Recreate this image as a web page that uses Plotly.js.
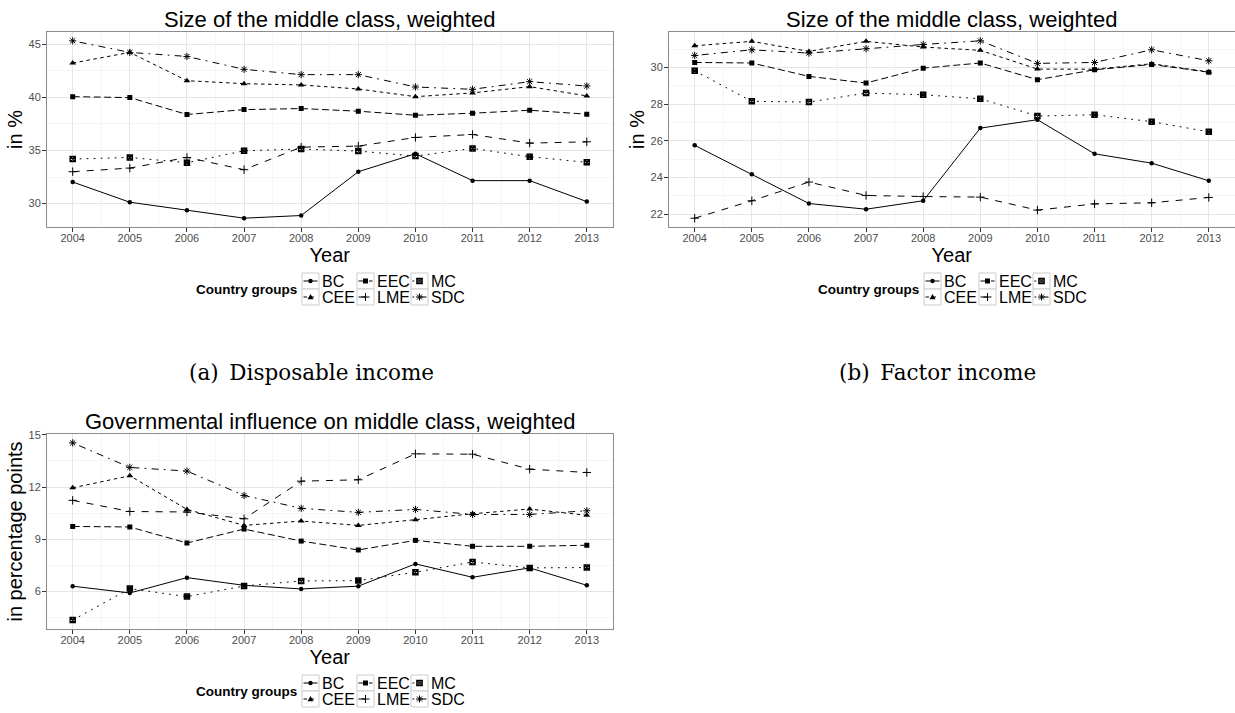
<!DOCTYPE html>
<html>
<head>
<meta charset="utf-8">
<script src="https://cdn.plot.ly/plotly-3.0.1.min.js"></script>
<style>html,body{margin:0;padding:0;background:#fff}#chart{width:1235px;height:713px}</style>
</head>
<body>
<div id="chart"></div>
<script>
// ---------------- data ----------------
const years = [2004, 2005, 2006, 2007, 2008, 2009, 2010, 2011, 2012, 2013];
const groups = ['BC', 'CEE', 'EEC', 'LME', 'MC', 'SDC'];

// (a) Size of the middle class, weighted - disposable income (in %)
const dispBC  = [32.03, 30.13, 29.38, 28.63, 28.88, 33.00, 34.69, 32.16, 32.16, 30.19];
const dispCEE = [43.22, 44.22, 41.56, 41.28, 41.16, 40.78, 40.06, 40.41, 41.00, 40.13];
const dispEEC = [40.06, 39.97, 38.38, 38.84, 38.94, 38.69, 38.31, 38.50, 38.78, 38.41];
const dispLME = [33.00, 33.34, 34.34, 33.19, 35.31, 35.41, 36.22, 36.50, 35.69, 35.81];
const dispMC  = [34.19, 34.34, 33.84, 34.97, 35.13, 34.94, 34.47, 35.19, 34.41, 33.88];
const dispSDC = [45.31, 44.22, 43.84, 42.63, 42.13, 42.13, 40.97, 40.75, 41.47, 41.06];

// (b) Size of the middle class, weighted - factor income (in %)
const factBC  = [25.75, 24.18, 22.58, 22.27, 22.73, 26.69, 27.15, 25.29, 24.78, 23.82];
const factCEE = [31.18, 31.42, 30.87, 31.42, 31.11, 30.93, 29.91, 29.90, 30.20, 29.75];
const factEEC = [30.27, 30.24, 29.51, 29.15, 29.96, 30.24, 29.33, 29.87, 30.16, 29.74];
const factLME = [21.78, 22.73, 23.75, 23.02, 22.96, 22.93, 22.22, 22.56, 22.62, 22.91];
const factMC  = [29.82, 28.15, 28.11, 28.60, 28.51, 28.29, 27.35, 27.42, 27.04, 26.49];
const factSDC = [30.65, 30.96, 30.78, 31.02, 31.25, 31.45, 30.22, 30.27, 30.96, 30.36];

// (c) Governmental influence on middle class, weighted (in percentage points)
const govBC  = [6.31, 5.92, 6.80, 6.36, 6.15, 6.31, 7.59, 6.82, 7.36, 6.36];
const govCEE = [11.96, 12.65, 10.72, 9.80, 10.05, 9.80, 10.13, 10.47, 10.74, 10.38];
const govEEC = [9.74, 9.71, 8.79, 9.59, 8.90, 8.39, 8.94, 8.60, 8.60, 8.66];
const govLME = [11.24, 10.60, 10.57, 10.18, 12.34, 12.42, 13.91, 13.89, 13.03, 12.84];
const govMC  = [4.36, 6.17, 5.71, 6.32, 6.61, 6.63, 7.11, 7.70, 7.36, 7.38];
const govSDC = [14.54, 13.13, 12.92, 11.52, 10.78, 10.55, 10.72, 10.43, 10.43, 10.64];

const panelTitles = ['Size of the middle class, weighted', 'Size of the middle class, weighted',
                     'Governmental influence on middle class, weighted'];
const yTitles = ['in %', 'in %', 'in percentage points'];
const xTitle = 'Year';
const legendTitle = 'Country groups';
const captions = ['(a)\u2002Disposable income', '(b)\u2002Factor income'];

// ---------------- styles ----------------
const W = 1235, H = 713;
const FONT = 'Liberation Sans, Arial, sans-serif';
const sty = {
  BC:  {dash: 'solid',                      symbol: 'circle',          size: 4.5, lw: 0},
  CEE: {dash: '3.5px,3.5px',                symbol: 'triangle-up',     size: 6,   lw: 0},
  EEC: {dash: '7px,3.5px',                  symbol: 'square',          size: 5,   lw: 0},
  LME: {dash: '7px,7px',                    symbol: 'cross-thin-open', size: 6,   lw: 1},
  MC:  {dash: '1.75px,5.25px',              symbol: 'square-x-open',   size: 5,   lw: 1.5},
  SDC: {dash: '1.75px,5.25px,7px,5.25px',   symbol: 'asterisk-open',   size: 6,   lw: 1}
};

const panels = [
  {series: [dispBC, dispCEE, dispEEC, dispLME, dispMC, dispSDC], xa: 'x',  ya: 'y'},
  {series: [factBC, factCEE, factEEC, factLME, factMC, factSDC], xa: 'x2', ya: 'y2'},
  {series: [govBC,  govCEE,  govEEC,  govLME,  govMC,  govSDC],  xa: 'x3', ya: 'y3'}
];

const traces = [];
panels.forEach(p => {
  groups.forEach((g, i) => {
    const s = sty[g];
    traces.push({
      type: 'scatter', mode: 'lines+markers', name: g,
      x: years, y: p.series[i], xaxis: p.xa, yaxis: p.ya,
      line: {color: '#000', width: 1, dash: s.dash},
      marker: {symbol: s.symbol, size: s.size, color: '#000', line: {color: '#000', width: s.lw}},
      showlegend: false, hoverinfo: 'x+y+name'
    });
  });
});

// ---------------- axes ----------------
const P = x => x / W, Q = y => 1 - y / H;
// pixel boxes of panels: [left, right, top, bottom]
const boxes = [[47, 612.5, 32, 227], [669, 1234.5, 32, 227], [47, 612.5, 434, 629]];
const yRanges = [[27.80, 46.14], [21.30, 31.93], [3.85, 15.05]];
const yTick = [{t0: 30, d: 5}, {t0: 22, d: 2}, {t0: 6, d: 3}];

function xAxis(b, anchor) {
  return {
    domain: [P(b[0]), P(b[1])], anchor: anchor,
    range: [2003.55, 2013.45], tickmode: 'linear', tick0: 2004, dtick: 1,
    ticks: 'outside', ticklen: 4, tickwidth: 1, tickcolor: '#333',
    ticklabelstandoff: -3,
    tickfont: {family: FONT, size: 11, color: '#4d4d4d'},
    showgrid: true, gridcolor: '#e6e6e6', gridwidth: 1,
    minor: {dtick: 0.5, showgrid: true, gridcolor: '#f5f5f5', gridwidth: 1},
    showline: true, linecolor: '#8c8c8c', linewidth: 1, mirror: true, zeroline: false,
    title: {text: xTitle, font: {family: FONT, size: 20, color: '#000'}, standoff: 0},
    automargin: false, fixedrange: true
  };
}
function yAxis(b, anchor, r, t, title) {
  return {
    domain: [Q(b[3]), Q(b[2])], anchor: anchor,
    range: r, tickmode: 'linear', tick0: t.t0, dtick: t.d,
    ticks: 'outside', ticklen: 4, tickwidth: 1, tickcolor: '#333',
    ticklabelstandoff: -1,
    tickfont: {family: FONT, size: 11, color: '#4d4d4d'},
    showgrid: true, gridcolor: '#e6e6e6', gridwidth: 1,
    minor: {dtick: t.d / 2, showgrid: true, gridcolor: '#f5f5f5', gridwidth: 1},
    showline: true, linecolor: '#8c8c8c', linewidth: 1, mirror: true, zeroline: false,
    title: {text: title, font: {family: FONT, size: 20, color: '#000'}, standoff: 0},
    automargin: false, fixedrange: true
  };
}

// ---------------- annotations & legend ----------------
const annotations = [];
const shapes = [];
const titleBottom = [33.5, 33.5, 435.5];
boxes.forEach((b, i) => {
  annotations.push({
    text: panelTitles[i], xref: 'paper', yref: 'paper',
    x: P((b[0] + b[1]) / 2), y: Q(titleBottom[i]), xanchor: 'center', yanchor: 'bottom',
    showarrow: false, font: {family: FONT, size: 22, color: '#000'}
  });
});
const capX = [311, 937];
captions.forEach((c, i) => {
  annotations.push({
    text: c, xref: 'paper', yref: 'paper', x: P(capX[i]), y: Q(372),
    xanchor: 'center', yanchor: 'middle', showarrow: false,
    font: {family: 'DejaVu Serif, serif', size: 21.5, color: '#000'}
  });
});

const legendCols = [['BC', 'CEE'], ['EEC', 'LME'], ['MC', 'SDC']];
const colOff = [0, 55, 109];
function seg(pts) { return pts.map((p, k) => (k ? 'L' : 'M') + P(p[0]) + ',' + Q(p[1])).join(' '); }
function addSymbol(g, cx, cy) {
  const base = {xref: 'paper', yref: 'paper', layer: 'above'};
  if (g === 'BC') {
    shapes.push(Object.assign({type: 'circle', x0: P(cx - 2.2), x1: P(cx + 2.2), y0: Q(cy + 2.2), y1: Q(cy - 2.2),
      fillcolor: '#000', line: {width: 0}}, base));
  } else if (g === 'CEE') {
    shapes.push(Object.assign({type: 'path', path: seg([[cx, cy - 3], [cx + 3, cy + 2.2], [cx - 3, cy + 2.2]]) + ' Z',
      fillcolor: '#000', line: {width: 0}}, base));
  } else if (g === 'EEC') {
    shapes.push(Object.assign({type: 'rect', x0: P(cx - 2.5), x1: P(cx + 2.5), y0: Q(cy + 2.5), y1: Q(cy - 2.5),
      fillcolor: '#000', line: {width: 0}}, base));
  } else if (g === 'LME') {
    shapes.push(Object.assign({type: 'path', path: seg([[cx - 4, cy], [cx + 4, cy]]) + ' ' + seg([[cx, cy - 4], [cx, cy + 4]]),
      line: {color: '#000', width: 1}}, base));
  } else if (g === 'MC') {
    shapes.push(Object.assign({type: 'rect', x0: P(cx - 2.7), x1: P(cx + 2.7), y0: Q(cy + 2.7), y1: Q(cy - 2.7),
      fillcolor: '#555', line: {color: '#000', width: 1.2}}, base));
    shapes.push(Object.assign({type: 'path', path: seg([[cx - 2.7, cy - 2.7], [cx + 2.7, cy + 2.7]]) + ' ' + seg([[cx - 2.7, cy + 2.7], [cx + 2.7, cy - 2.7]]),
      line: {color: '#000', width: 0.8}}, base));
  } else if (g === 'SDC') {
    const r = 3.5, d = 2.5;
    shapes.push(Object.assign({type: 'path',
      path: [seg([[cx - r, cy], [cx + r, cy]]), seg([[cx, cy - r], [cx, cy + r]]),
             seg([[cx - d, cy - d], [cx + d, cy + d]]), seg([[cx - d, cy + d], [cx + d, cy - d]])].join(' '),
      line: {color: '#000', width: 1}}, base));
  }
}
function addLegend(keyX, keyY) {
  annotations.push({
    text: '<b>' + legendTitle + '</b>', xref: 'paper', yref: 'paper',
    x: P(keyX - 3), y: Q(keyY + 16.5), xanchor: 'right', yanchor: 'middle', showarrow: false,
    font: {family: FONT, size: 13.5, color: '#000'}
  });
  legendCols.forEach((col, c) => {
    col.forEach((g, r) => {
      const x0 = keyX + colOff[c], y0 = keyY + r * 16, cx = x0 + 8.5, cy = y0 + 8;
      shapes.push({type: 'rect', xref: 'paper', yref: 'paper', x0: P(x0), x1: P(x0 + 17), y0: Q(y0 + 16), y1: Q(y0),
        fillcolor: '#fff', line: {color: '#cccccc', width: 1}, layer: 'above'});
      shapes.push({type: 'line', xref: 'paper', yref: 'paper', x0: P(x0 + 1.5), x1: P(x0 + 15.5), y0: Q(cy), y1: Q(cy),
        line: {color: '#000', width: 1, dash: sty[g].dash}, layer: 'above'});
      addSymbol(g, cx, cy);
      annotations.push({
        text: g, xref: 'paper', yref: 'paper', x: P(x0 + 18), y: Q(cy), xanchor: 'left', yanchor: 'middle',
        showarrow: false, font: {family: FONT, size: 16, color: '#000'}
      });
    });
  });
}
addLegend(302, 273);
addLegend(924, 273);
addLegend(302, 675);

const layout = {
  width: W, height: H, autosize: false,
  margin: {l: 0, r: 0, t: 0, b: 0, pad: 0},
  paper_bgcolor: '#fff', plot_bgcolor: '#fff',
  showlegend: false,
  font: {family: FONT, color: '#000'},
  xaxis:  xAxis(boxes[0], 'y'),
  yaxis:  yAxis(boxes[0], 'x',  yRanges[0], yTick[0], yTitles[0]),
  xaxis2: xAxis(boxes[1], 'y2'),
  yaxis2: yAxis(boxes[1], 'x2', yRanges[1], yTick[1], yTitles[1]),
  xaxis3: xAxis(boxes[2], 'y3'),
  yaxis3: yAxis(boxes[2], 'x3', yRanges[2], yTick[2], yTitles[2]),
  annotations: annotations,
  shapes: shapes
};

Plotly.newPlot('chart', traces, layout, {displayModeBar: false, staticPlot: false, responsive: false});
</script>
</body>
</html>
